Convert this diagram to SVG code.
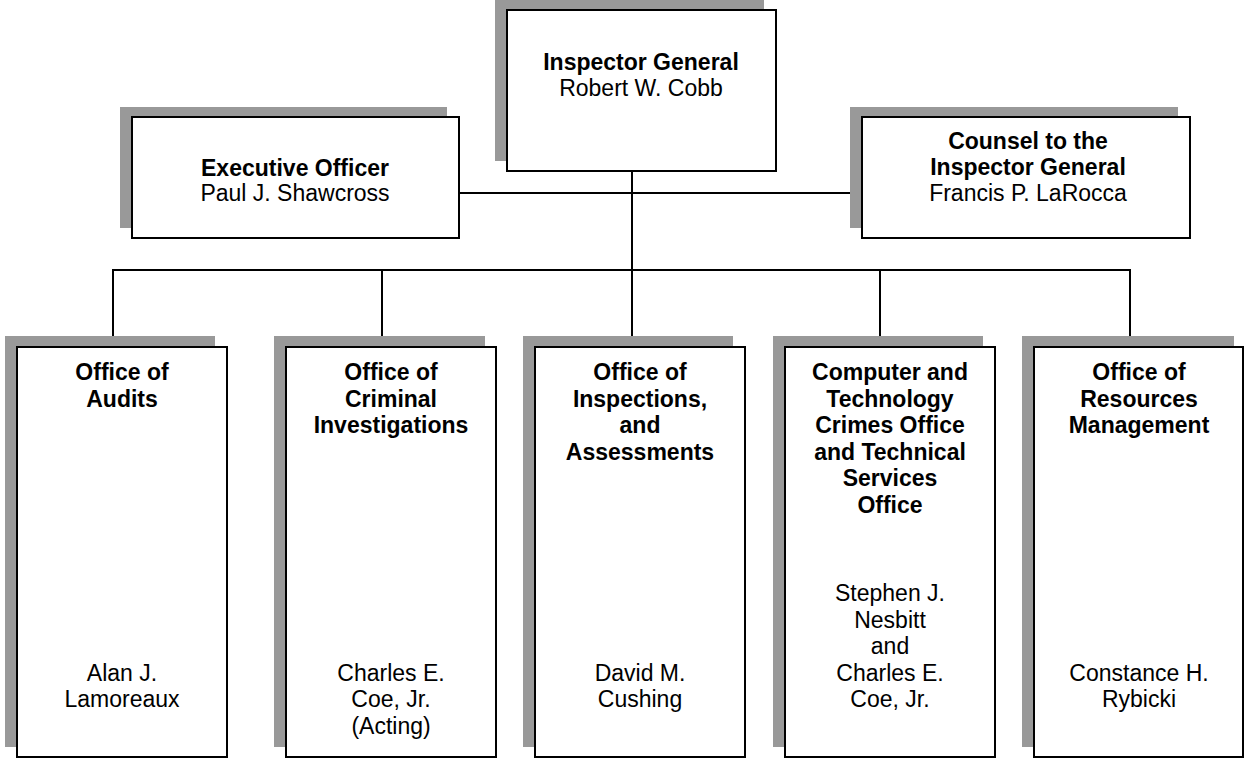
<svg xmlns="http://www.w3.org/2000/svg" width="1244" height="759" viewBox="0 0 1244 759">
  <style>
    .shadow { fill: #999999; stroke: none; }
    .box { fill: #ffffff; stroke: #000000; stroke-width: 2; }
    .conn { fill: none; stroke: #000000; stroke-width: 2; }
    text { font-family: "Liberation Sans", Arial, sans-serif; font-size: 23px; fill: #000000; text-anchor: middle; }
    .b { font-weight: bold; }
  </style>
  <rect width="1244" height="759" fill="#ffffff"/>

  <!-- reporting lines -->
  <g id="connectors">
    <line class="conn" x1="632" y1="171" x2="632" y2="270"/>
    <line class="conn" x1="459" y1="193" x2="862" y2="193"/>
    <line class="conn" x1="113" y1="270" x2="1130" y2="270"/>
    <line class="conn" x1="113" y1="269" x2="113" y2="340"/>
    <line class="conn" x1="382" y1="270" x2="382" y2="340"/>
    <line class="conn" x1="632" y1="270" x2="632" y2="340"/>
    <line class="conn" x1="880" y1="270" x2="880" y2="340"/>
    <line class="conn" x1="1130" y1="269" x2="1130" y2="340"/>
  </g>

  <g id="inspector-general">
    <rect class="shadow" x="495" y="0" width="269" height="161"/>
    <rect class="box" x="507" y="10" width="269" height="161"/>
    <text class="b" x="641" y="70">Inspector General</text>
    <text x="641" y="96">Robert W. Cobb</text>
  </g>

  <g id="executive-officer">
    <rect class="shadow" x="120" y="107" width="327" height="121"/>
    <rect class="box" x="132" y="117" width="327" height="121"/>
    <text class="b" x="295" y="176">Executive Officer</text>
    <text x="295" y="201">Paul J. Shawcross</text>
  </g>

  <g id="counsel">
    <rect class="shadow" x="850" y="107" width="328" height="121"/>
    <rect class="box" x="862" y="117" width="328" height="121"/>
    <text class="b" x="1028" y="149">Counsel to the</text>
    <text class="b" x="1028" y="175">Inspector General</text>
    <text x="1028" y="201">Francis P. LaRocca</text>
  </g>

  <g id="audits">
    <rect class="shadow" x="5" y="336" width="210" height="411"/>
    <rect class="box" x="17" y="347" width="210" height="410"/>
    <text class="b" x="122" y="380">Office of</text>
    <text class="b" x="122" y="406.5">Audits</text>
    <text x="122" y="680.5">Alan J.</text>
    <text x="122" y="707">Lamoreaux</text>
  </g>

  <g id="criminal-investigations">
    <rect class="shadow" x="274" y="336" width="211" height="411"/>
    <rect class="box" x="286" y="347" width="210" height="410"/>
    <text class="b" x="391" y="380">Office of</text>
    <text class="b" x="391" y="406.5">Criminal</text>
    <text class="b" x="391" y="433">Investigations</text>
    <text x="391" y="680.5">Charles E.</text>
    <text x="391" y="707">Coe, Jr.</text>
    <text x="391" y="733.5">(Acting)</text>
  </g>

  <g id="inspections-assessments">
    <rect class="shadow" x="523" y="336" width="210" height="411"/>
    <rect class="box" x="535" y="347" width="210" height="410"/>
    <text class="b" x="640" y="380">Office of</text>
    <text class="b" x="640" y="406.5">Inspections,</text>
    <text class="b" x="640" y="433">and</text>
    <text class="b" x="640" y="459.5">Assessments</text>
    <text x="640" y="680.5">David M.</text>
    <text x="640" y="707">Cushing</text>
  </g>

  <g id="computer-technology-crimes">
    <rect class="shadow" x="773" y="336" width="210" height="411"/>
    <rect class="box" x="785" y="347" width="210" height="410"/>
    <text class="b" x="890" y="380">Computer and</text>
    <text class="b" x="890" y="406.5">Technology</text>
    <text class="b" x="890" y="433">Crimes Office</text>
    <text class="b" x="890" y="459.5">and Technical</text>
    <text class="b" x="890" y="486">Services</text>
    <text class="b" x="890" y="512.5">Office</text>
    <text x="890" y="601">Stephen J.</text>
    <text x="890" y="627.5">Nesbitt</text>
    <text x="890" y="654">and</text>
    <text x="890" y="680.5">Charles E.</text>
    <text x="890" y="707">Coe, Jr.</text>
  </g>

  <g id="resources-management">
    <rect class="shadow" x="1022" y="336" width="212" height="411"/>
    <rect class="box" x="1034" y="347" width="209" height="410"/>
    <text class="b" x="1139" y="380">Office of</text>
    <text class="b" x="1139" y="406.5">Resources</text>
    <text class="b" x="1139" y="433">Management</text>
    <text x="1139" y="680.5">Constance H.</text>
    <text x="1139" y="707">Rybicki</text>
  </g>
</svg>
